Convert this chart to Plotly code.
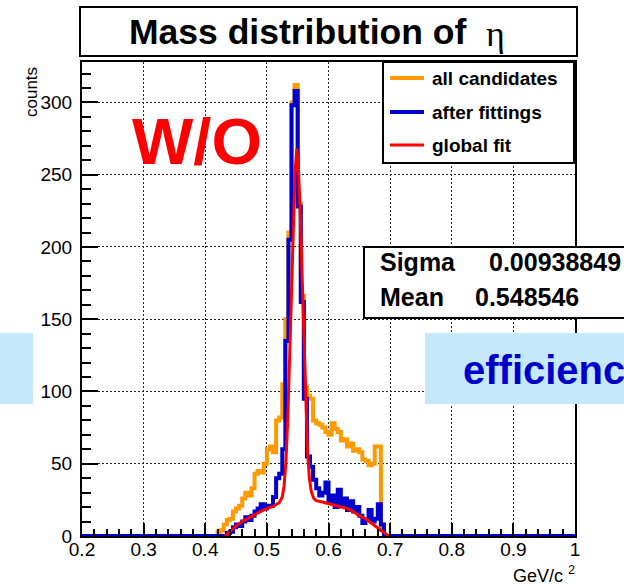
import plotly.graph_objects as go

# ---- histogram binning ----
X_LO, X_HI = 0.2, 1.0
BIN_W = 0.005

# all eta candidates, counts per bin starting at ALL_START
ALL_START = 0.420
all_counts = [3, 4, 8, 11, 12, 17, 19, 21, 26, 30, 28, 33, 43, 45, 44, 50, 60, 62, 58, 80,
              82, 105, 150, 210, 300, 312, 230, 166, 103, 97, 95, 80, 78, 77, 75, 72, 70, 78,
              74, 72, 66, 67, 62, 64, 59, 60, 58, 53, 52, 49, 50, 62, 62, 4]

# candidates kept after the kinematic fits
FIT_START = 0.435
fit_counts = [2, 3, 6, 8, 7, 10, 13, 11, 14, 17, 19, 22, 19, 21, 21, 27, 40, 43, 60, 135,
              205, 298, 308, 228, 162, 95, 55, 48, 39, 33, 28, 30, 37, 24, 28, 20, 32, 22,
              26, 18, 24, 17, 20, 14, 9, 11, 18, 10, 12, 22, 8]

# global fit curve (signal peak + background)
gfit_x = [0.432, 0.440, 0.450, 0.460, 0.470, 0.480, 0.490, 0.500, 0.510, 0.516, 0.520,
          0.525, 0.528, 0.531, 0.534, 0.537, 0.540, 0.543, 0.5455, 0.5485, 0.5515, 0.554,
          0.557, 0.560, 0.563, 0.566, 0.569, 0.572, 0.576, 0.580, 0.590, 0.600, 0.610,
          0.620, 0.630, 0.640, 0.650, 0.660, 0.670, 0.680, 0.690, 0.697]
gfit_y = [0, 3, 7, 10, 12.5, 15, 17, 19, 20.5, 22, 23, 27, 35, 52, 82, 125, 172, 218, 250,
          268, 252, 225, 180, 132, 90, 58, 40, 31, 26, 24.5, 23.5, 22.5, 21.5, 20.5, 19,
          17, 14, 12, 8.5, 5.5, 2.5, 0]

fit_sigma = 0.00938849
fit_mean = 0.548546

series_names = ["all candidates", "after fittings", "global fit"]
series_colors = ["#ff9900", "#0000d0", "#ff0000"]

x_tickvals = [0.2, 0.3, 0.4, 0.5, 0.6, 0.7, 0.8, 0.9, 1.0]
x_ticktext = ["0.2", "0.3", "0.4", "0.5", "0.6", "0.7", "0.8", "0.9", "1"]
y_tickvals = [0, 50, 100, 150, 200, 250, 300]

FONT = "Liberation Sans, Arial, Helvetica, sans-serif"


def step_hist(start, counts):
    n = round((X_HI - X_LO) / BIN_W)
    vals = [0.0] * n
    i0 = round((start - X_LO) / BIN_W)
    for i, c in enumerate(counts):
        vals[i0 + i] = c
    edges = [X_LO + k * BIN_W for k in range(n + 1)]
    return edges, vals + [vals[-1]]


# pixel helpers for the plot frame: x 82..575, y 62..536
L, R, T, B = 82, 49, 62, 50
W, H = 624, 586
PW, PH = W - L - R, H - T - B


def px(x):
    return (x - L) / PW


def py(y):
    return (H - B - y) / PH


fig = go.Figure()

ex, ey = step_hist(ALL_START, all_counts)
fig.add_trace(go.Scatter(x=ex, y=ey, mode="lines", line=dict(shape="hv", color=series_colors[0], width=4),
                         name=series_names[0], showlegend=False))
ex, ey = step_hist(FIT_START, fit_counts)
fig.add_trace(go.Scatter(x=ex, y=ey, mode="lines", line=dict(shape="hv", color=series_colors[1], width=4),
                         name=series_names[1], showlegend=False))
fig.add_trace(go.Scatter(x=gfit_x, y=gfit_y, mode="lines", line=dict(color=series_colors[2], width=3),
                         name=series_names[2], showlegend=False))

axis_common = dict(
    ticks="inside", tickcolor="black", tickwidth=1.5,
    showline=True, linecolor="black", linewidth=2, mirror=True,
    showgrid=True, gridcolor="#222", gridwidth=1, griddash="2px,2px",
    zeroline=False, tickfont=dict(family=FONT, size=19, color="black"),
)

fig.update_layout(
    width=W, height=H, margin=dict(l=L, r=R, t=T, b=B),
    paper_bgcolor="white", plot_bgcolor="white",
    showlegend=False,
    xaxis=dict(range=[X_LO, X_HI], tickvals=x_tickvals, ticktext=x_ticktext, ticklen=13,
               minor=dict(ticks="inside", dtick=0.02, tick0=0.2, ticklen=7, tickwidth=1.5,
                          tickcolor="black", showgrid=False),
               ticklabelstandoff=-5, **axis_common),
    yaxis=dict(range=[0, 328], tickvals=y_tickvals, ticklen=16,
               minor=dict(ticks="inside", dtick=10, tick0=0, ticklen=9, tickwidth=1.5,
                          tickcolor="black", showgrid=False),
               ticklabelstandoff=4, **axis_common),
)

shapes = []
ann = []

# title box
shapes.append(dict(type="rect", xref="paper", yref="paper", x0=px(80), x1=px(577), y0=py(56), y1=py(7),
                   line=dict(color="black", width=2), fillcolor="white", layer="above"))
ann.append(dict(text="<b>Mass distribution of</b>", x=px(127), y=py(32), xanchor="left", yanchor="middle",
                font=dict(family=FONT, size=35.5, color="black")))
ann.append(dict(text="η", x=px(484), y=py(34), xanchor="left", yanchor="middle",
                font=dict(family="Liberation Serif, Times New Roman, serif", size=36, color="black")))

# legend box
shapes.append(dict(type="rect", xref="paper", yref="paper", x0=px(383), x1=px(574), y0=py(163), y1=py(62),
                   line=dict(color="black", width=2), fillcolor="white", layer="above"))
for i, (name, col) in enumerate(zip(series_names, series_colors)):
    yrow = [78, 112, 145][i]
    shapes.append(dict(type="line", xref="paper", yref="paper", x0=px(390), x1=px(424),
                       y0=py(yrow), y1=py(yrow), line=dict(color=col, width=4 if i < 2 else 3), layer="above"))
    ann.append(dict(text=f"<b>{name}</b>", x=px(430), y=py(yrow), xanchor="left", yanchor="middle",
                    font=dict(family=FONT, size=19, color="black")))

# fit statistics box
shapes.append(dict(type="rect", xref="paper", yref="paper", x0=px(364), x1=px(680), y0=py(318), y1=py(247),
                   line=dict(color="black", width=2), fillcolor="white", layer="above"))
ann.append(dict(text="<b>Sigma</b>", x=px(378), y=py(262), xanchor="left", yanchor="middle",
                font=dict(family=FONT, size=25, color="black")))
ann.append(dict(text=f"<b>{fit_sigma:g}</b>", x=px(487), y=py(262), xanchor="left", yanchor="middle",
                font=dict(family=FONT, size=25, color="black")))
ann.append(dict(text="<b>Mean</b>", x=px(378), y=py(297), xanchor="left", yanchor="middle",
                font=dict(family=FONT, size=25, color="black")))
ann.append(dict(text=f"<b>{fit_mean:g}</b>", x=px(473), y=py(297), xanchor="left", yanchor="middle",
                font=dict(family=FONT, size=25, color="black")))

# highlighted boxes
shapes.append(dict(type="rect", xref="paper", yref="paper", x0=px(425), x1=px(700), y0=py(404), y1=py(333),
                   line=dict(width=0), fillcolor="#c6e8fb", layer="above"))
shapes.append(dict(type="rect", xref="paper", yref="paper", x0=px(-20), x1=px(33), y0=py(404), y1=py(333),
                   line=dict(width=0), fillcolor="#c6e8fb", layer="above"))
ann.append(dict(text="<b>efficiency</b>", x=px(461), y=py(370), xanchor="left", yanchor="middle",
                font=dict(family=FONT, size=40, color="#0000cc")))

ann.append(dict(text="<b>W/O</b>", x=px(197), y=py(141), xanchor="center", yanchor="middle",
                font=dict(family=FONT, size=65, color="#ff0000")))

# axis titles
ann.append(dict(text="counts", x=px(31), y=py(92), xanchor="center", yanchor="middle", textangle=-90,
                font=dict(family=FONT, size=17, color="black")))
ann.append(dict(text="GeV/c <sup>2</sup>", x=px(577), y=py(574), xanchor="right", yanchor="middle",
                font=dict(family=FONT, size=18, color="black")))

for a in ann:
    a.update(xref="paper", yref="paper", showarrow=False)

fig.update_layout(shapes=shapes, annotations=ann)
fig.write_html("out.html")
